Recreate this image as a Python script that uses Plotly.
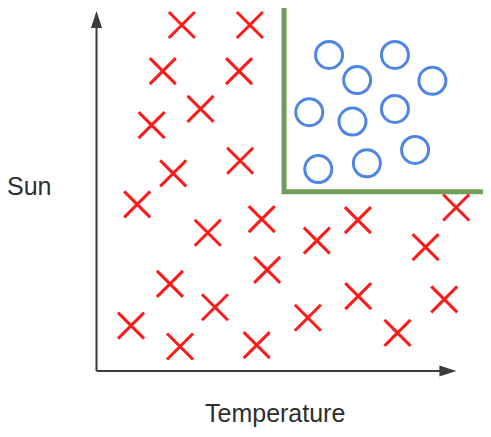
import plotly.graph_objects as go

# Data (Temperature, Sun) in arbitrary units, axes run 0..10
cross_temperature = [2.37, 4.26, 1.84, 3.96, 2.89, 1.53, 3.99, 2.13, 1.13, 3.09,
                     4.59, 6.12, 7.26, 9.99, 9.14, 4.74, 2.04, 3.29, 0.96, 2.32,
                     4.45, 5.87, 7.27, 9.66, 8.36]
cross_sun = [9.61, 9.61, 8.33, 8.33, 7.28, 6.83, 5.84, 5.49, 4.63, 3.84,
             4.22, 3.62, 4.19, 4.54, 3.44, 2.81, 2.42, 1.77, 1.26, 0.68,
             0.72, 1.48, 2.08, 1.99, 1.06]

circle_temperature = [6.46, 8.29, 7.24, 9.33, 5.91, 7.11, 8.29, 6.16, 7.51, 8.85]
circle_sun = [8.78, 8.78, 8.08, 8.06, 7.19, 6.93, 7.28, 5.61, 5.77, 6.14]

boundary_temperature = [5.21, 5.21, 10.74]
boundary_sun = [10.14, 4.98, 4.98]

axis_max = 10.0
x_label = "Temperature"
y_label = "Sun"

fig = go.Figure()

# Axes lines
fig.add_trace(go.Scatter(x=[0, 0], y=[0, axis_max - 0.3], mode="lines",
                         line=dict(color="#3a3d3a", width=2), hoverinfo="skip"))
fig.add_trace(go.Scatter(x=[0, axis_max - 0.3], y=[0, 0], mode="lines",
                         line=dict(color="#3a3d3a", width=2), hoverinfo="skip"))
# Arrow heads
fig.add_trace(go.Scatter(x=[0], y=[axis_max], mode="markers",
                         marker=dict(symbol="arrow", size=18, angle=0, color="#3a3d3a",
                                     line=dict(width=0)), hoverinfo="skip"))
fig.add_trace(go.Scatter(x=[axis_max], y=[0], mode="markers",
                         marker=dict(symbol="arrow", size=18, angle=90, color="#3a3d3a",
                                     line=dict(width=0)), hoverinfo="skip"))

# Boundary
fig.add_trace(go.Scatter(x=boundary_temperature, y=boundary_sun, mode="lines",
                         line=dict(color="#6f9f58", width=5), hoverinfo="skip"))

# Crosses
fig.add_trace(go.Scatter(x=cross_temperature, y=cross_sun, mode="markers",
                         marker=dict(symbol="x-thin", size=26,
                                     line=dict(color="#ff1a1a", width=3))))
# Circles
fig.add_trace(go.Scatter(x=circle_temperature, y=circle_sun, mode="markers",
                         marker=dict(symbol="circle-open", size=27, color="#4f86e3",
                                     line=dict(color="#4f86e3", width=3))))

# page body has an 8px margin, so the plot origin is placed 8px up/left
px_per_unit = 36.0
x0_px, y0_px = 88.5, 363.0
W, H = 491, 437
xr = [-x0_px / px_per_unit, (W - x0_px) / px_per_unit]
yr = [-(H - y0_px) / px_per_unit, y0_px / px_per_unit]

fig.update_layout(
    width=W, height=H,
    margin=dict(l=0, r=0, t=0, b=0),
    paper_bgcolor="white", plot_bgcolor="white",
    showlegend=False,
    xaxis=dict(range=xr, visible=False, fixedrange=True),
    yaxis=dict(range=yr, visible=False, fixedrange=True),
    font=dict(family="Liberation Sans, Arial, sans-serif", color="#333333"),
    annotations=[
        dict(text=x_label, xref="paper", yref="paper", x=267 / W, y=1 - 405 / H,
             showarrow=False, font=dict(size=25, color="#2e2e2e"),
             xanchor="center", yanchor="middle"),
        dict(text=y_label, xref="paper", yref="paper", x=20.5 / W, y=1 - 178 / H,
             showarrow=False, font=dict(size=25, color="#2e2e2e"),
             xanchor="center", yanchor="middle"),
    ],
)

fig.write_html("out.html")
